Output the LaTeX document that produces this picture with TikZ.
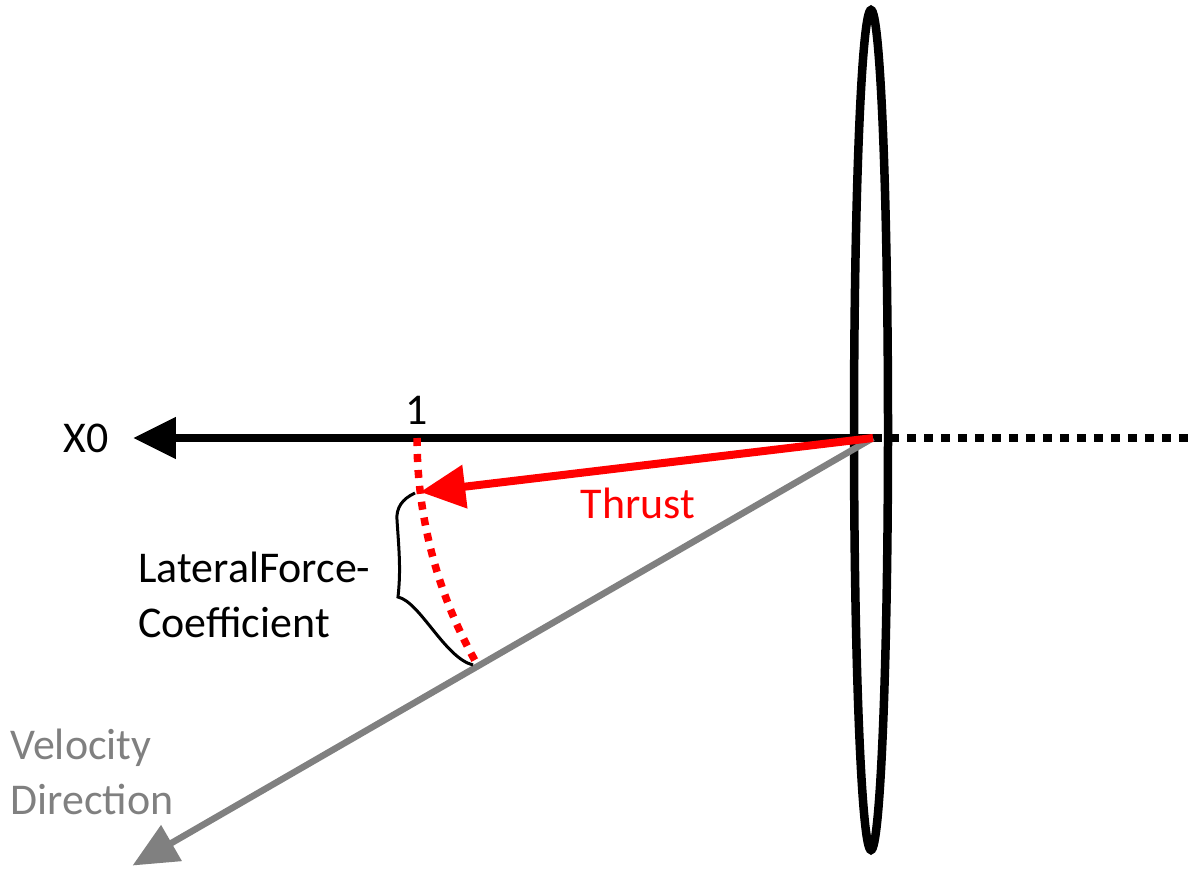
\documentclass[tikz,border=0pt]{standalone}
\usepackage{fontspec}
\setmainfont{Carlito}
\usepackage{xcolor}
\usepackage{tikz}
\usetikzlibrary{arrows.meta, calc}

\definecolor{velogray}{RGB}{128,128,128}

\begin{document}
\begin{tikzpicture}[
    x=0.02cm, y=0.02cm,
    lbl/.style={inner sep=0pt, font=\fontsize{25}{31}\selectfont},
    axisline/.style={line width=0.16cm, draw=black, -{Triangle[length=0.86cm, width=0.8cm]}},
    dotline/.style={line width=0.16cm, draw=black, dash pattern=on 0.18cm off 0.16cm},
    thrustline/.style={line width=0.16cm, draw=red, -{Triangle[length=0.9cm, width=0.84cm]}},
    arcline/.style={line width=0.15cm, draw=red, dash pattern=on 0.16cm off 0.16cm},
    veloline/.style={line width=0.13cm, draw=velogray, -{Triangle[length=0.9cm, width=0.8cm]}},
    diskline/.style={line width=0.17cm, draw=black},
    braceline/.style={line width=0.06cm, draw=black}
]
    \useasboundingbox (0,0) rectangle (1193,870);

    % Points
    \coordinate (hub) at (873,432);
    \coordinate (axistip) at (133,432);
    \coordinate (axisend) at (1193,432);
    \coordinate (thrusttip) at ($(hub)+(186.8:456)$);
    \coordinate (arcend) at ($(hub)+(210:456)$);
    \coordinate (velotip) at ($(hub)+(210:855)$);

    % Nodes
    \node (x0) [lbl] at (86,432) {X0};
    \node (one) [lbl] at (417,460) {1};
    \node (thrust) [lbl, text=red] at (638,367) {Thrust};
    \node (coef) [lbl, anchor=west, align=left] at (138,275) {LateralForce-\\Coefficient};
    \node (velo) [lbl, anchor=west, align=left, text=velogray] at (10,98) {Velocity\\Direction};

    % Disk
    \draw [diskline] (871,440) ellipse [x radius=17, y radius=420];

    % Flows
    \draw [axisline] (hub) -- (axistip);
    \draw [dotline] (hub) -- (axisend);
    \draw [veloline] (hub) -- (velotip);
    \draw [arcline] ($(hub)+(180:456)$) arc [start angle=180, end angle=210, radius=0.0912cm*100];
    \draw [thrustline] (hub) -- (thrusttip);

    % Brace
    \draw [braceline] (415,377) .. controls (402,371) and (396,362) .. (397,350)
        .. controls (399,320) and (401,300) .. (398,273)
        .. controls (420,268) and (445,212) .. (473,205);
\end{tikzpicture}
\end{document}
